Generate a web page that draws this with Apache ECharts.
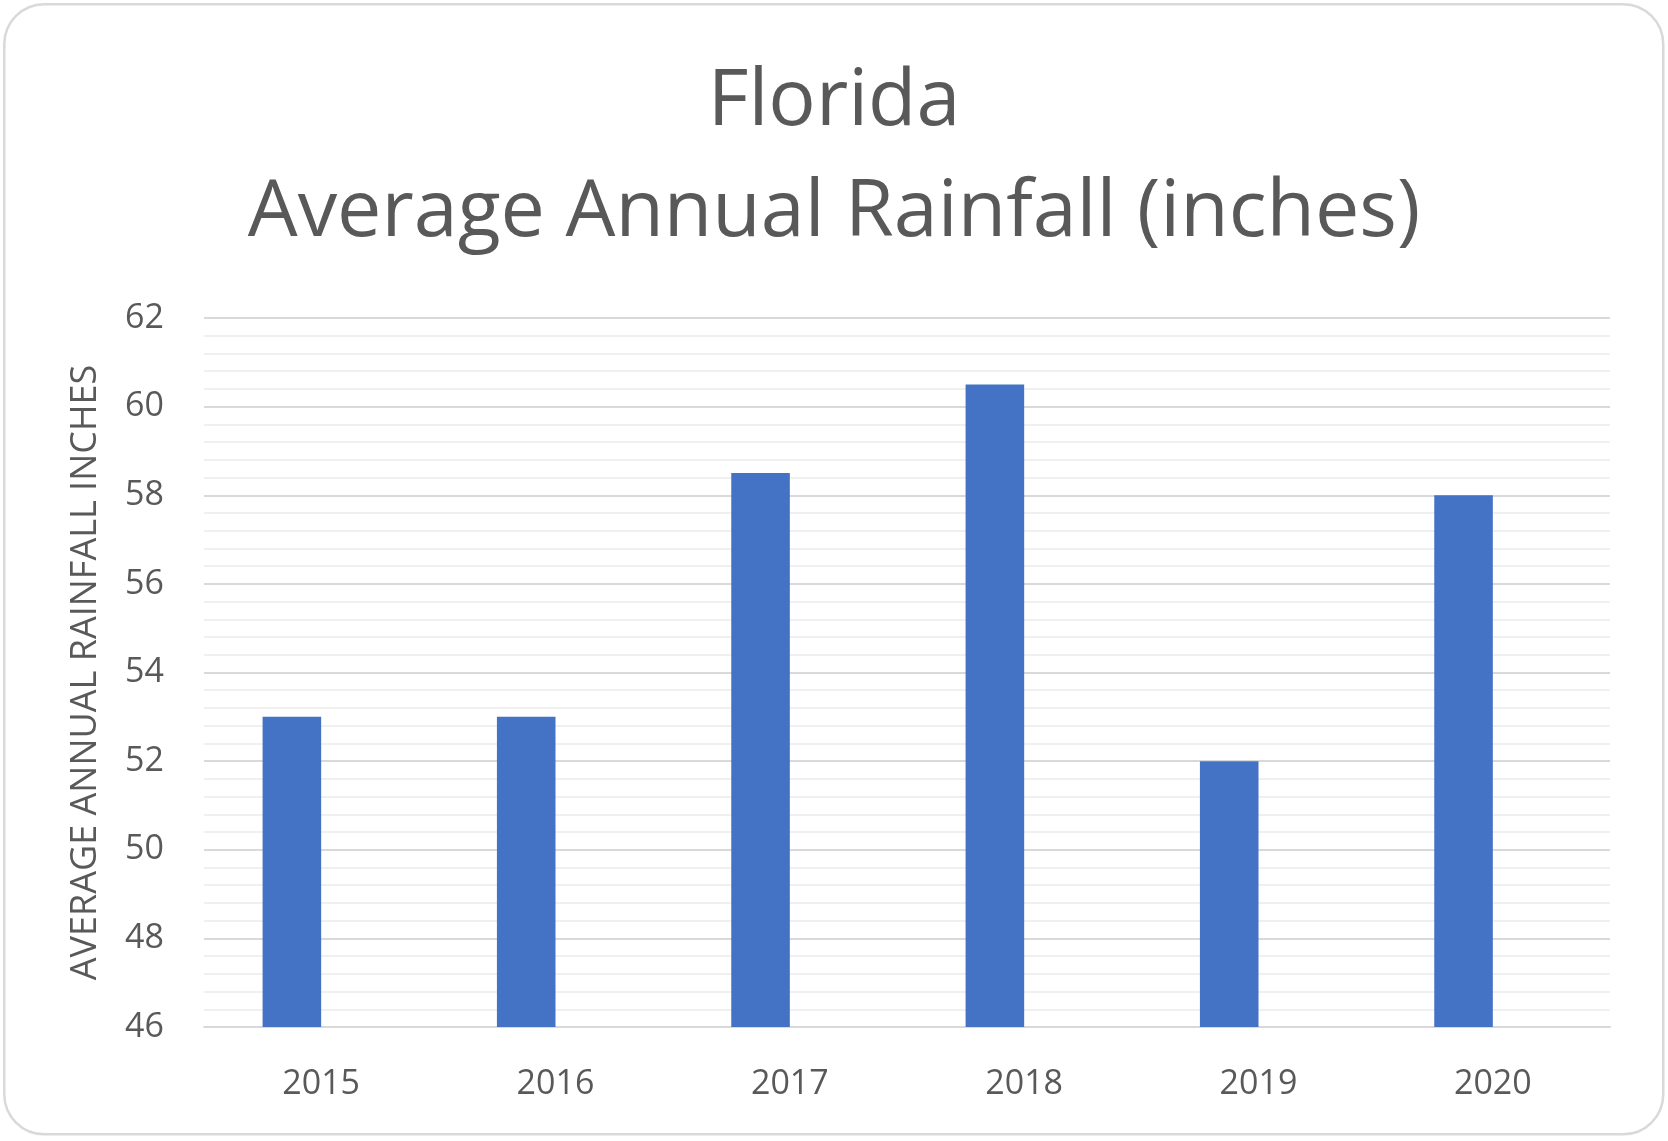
<!DOCTYPE html>
<html>
<head>
<meta charset="utf-8">
<script src="https://cdn.jsdelivr.net/npm/echarts@6/dist/echarts.min.js"></script>
<style>
html,body{margin:0;padding:0;background:#fff;}
#chart{width:1668px;height:1141px;}
</style>
</head>
<body>
<div id="chart"></div>
<script>
var categories = ['2015', '2016', '2017', '2018', '2019', '2020'];
var rainfall = [53, 53, 58.5, 60.5, 52, 58];
var emptySeries = ['-', '-', '-', '-', '-', '-'];
var titleText = 'Florida\nAverage Annual Rainfall (inches)';
var yAxisName = 'AVERAGE ANNUAL RAINFALL INCHES';
var yMin = 46, yMax = 62, yStep = 2;

var chart = echarts.init(document.getElementById('chart'));
var font = 'Open Sans';
chart.setOption({
  backgroundColor: '#ffffff',
  animation: false,
  graphic: [{
    type: 'rect',
    left: 3, top: 3, z: -1,
    shape: { width: 1659, height: 1130, r: 40 },
    style: { fill: '#ffffff', stroke: '#d9d9d9', lineWidth: 2.5 }
  }],
  title: {
    text: titleText,
    left: 'center',
    top: 47,
    padding: 0,
    textStyle: { fontFamily: font, fontSize: 79, fontWeight: 'normal', color: '#595959', lineHeight: 111, align: 'center' }
  },
  grid: { left: 204, right: 58, top: 318, bottom: 114, containLabel: false },
  xAxis: {
    type: 'category',
    data: categories,
    axisLine: { show: true, lineStyle: { color: '#d9d9d9', width: 2 } },
    axisTick: { show: false },
    axisLabel: { fontFamily: font, fontSize: 34, color: '#595959', margin: 40 },
    splitLine: { show: false }
  },
  yAxis: {
    type: 'value',
    min: yMin, max: yMax, interval: yStep,
    name: yAxisName,
    nameLocation: 'middle',
    nameGap: 100,
    nameRotate: 90,
    nameTextStyle: { fontFamily: font, fontSize: 36, color: '#595959' },
    axisLine: { show: false },
    axisTick: { show: false },
    axisLabel: { fontFamily: font, fontSize: 34, color: '#595959', margin: 40 },
    splitLine: { show: true, lineStyle: { color: '#d9d9d9', width: 2 } },
    minorTick: { show: false, splitNumber: 5 },
    minorSplitLine: { show: true, lineStyle: { color: '#f0f0f0', width: 2 } }
  },
  series: [
    { type: 'bar', data: rainfall, barGap: '0%', barCategoryGap: '50%', itemStyle: { color: '#4472c4' } },
    { type: 'bar', data: emptySeries, itemStyle: { color: '#ed7d31' } }
  ]
});
</script>
</body>
</html>
